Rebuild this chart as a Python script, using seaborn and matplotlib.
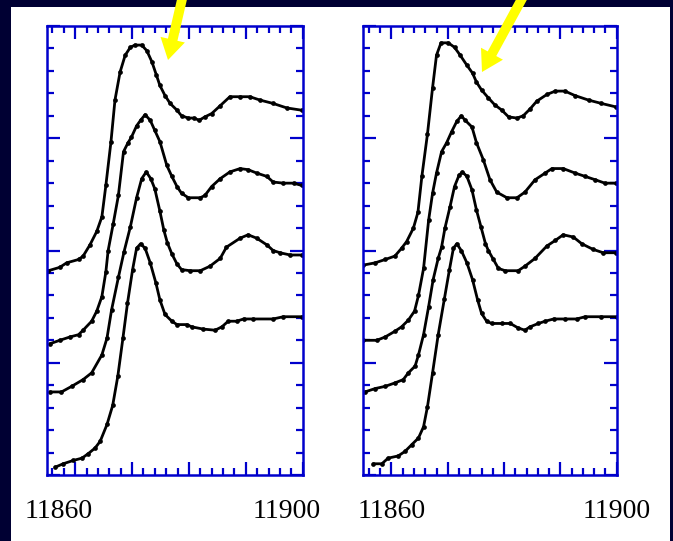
import matplotlib
matplotlib.use("Agg")
import matplotlib.pyplot as plt
import matplotlib.transforms as mtransforms
import seaborn as sns
from matplotlib.patches import Rectangle, FancyArrowPatch, ArrowStyle
from matplotlib.ticker import MultipleLocator

sns.set_style("white")
plt.rcParams["font.family"] = ["Liberation Serif", "DejaVu Serif"]

BLUE = "#0000CC"
NAVY = "#000033"

# ---- left panel spectra (energy in eV, offset absorbance) ----
e_left_a = [11855.3, 11857.3, 11858.5, 11860.6, 11861.4, 11862.6, 11863.8, 11864.7, 11865.4, 11866.3,
            11867.0, 11867.9, 11868.8, 11869.7, 11870.5, 11871.7, 11872.6, 11873.5, 11874.3, 11874.9,
            11875.8, 11876.7, 11877.9, 11878.7, 11879.9, 11880.9, 11881.8, 11882.8, 11884.0, 11885.5,
            11887.2, 11889.0, 11890.7, 11892.5, 11894.8, 11897.2, 11899.8]
mu_left_a = [1.82, 1.85, 1.89, 1.92, 1.95, 2.05, 2.17, 2.30, 2.58, 2.97,
             3.34, 3.59, 3.74, 3.81, 3.83, 3.83, 3.78, 3.68, 3.56, 3.47,
             3.38, 3.31, 3.25, 3.20, 3.18, 3.18, 3.16, 3.19, 3.22, 3.29,
             3.37, 3.37, 3.37, 3.34, 3.31, 3.27, 3.25]

e_left_b = [11855.6, 11857.3, 11859.1, 11860.6, 11861.4, 11862.9, 11863.8, 11864.7, 11865.4, 11865.8,
            11866.7, 11867.6, 11868.5, 11869.3, 11869.9, 11870.8, 11871.5, 11872.3, 11873.2, 11874.0,
            11874.9, 11876.1, 11877.0, 11877.9, 11878.7, 11879.9, 11882.0, 11882.8, 11884.0, 11885.5,
            11887.2, 11889.0, 11890.4, 11891.9, 11893.7, 11894.8, 11896.6, 11898.4, 11899.8]
mu_left_b = [1.17, 1.20, 1.23, 1.25, 1.29, 1.37, 1.46, 1.59, 1.81, 2.00,
             2.24, 2.49, 2.88, 2.96, 3.01, 3.11, 3.16, 3.21, 3.16, 3.07,
             2.97, 2.76, 2.66, 2.57, 2.51, 2.47, 2.47, 2.49, 2.57, 2.64,
             2.70, 2.73, 2.72, 2.69, 2.66, 2.61, 2.60, 2.60, 2.58]

e_left_c = [11855.6, 11857.6, 11859.4, 11861.4, 11862.9, 11864.7, 11865.6, 11866.4, 11867.6, 11868.6,
            11869.7, 11870.8, 11871.7, 11872.5, 11873.3, 11874.0, 11874.9, 11875.6, 11876.2, 11877.0,
            11877.9, 11878.7, 11880.2, 11882.0, 11883.7, 11885.5, 11886.6, 11889.0, 11890.4, 11891.9,
            11893.7, 11894.8, 11896.0, 11897.8, 11899.8]
mu_left_c = [0.74, 0.74, 0.79, 0.85, 0.91, 1.07, 1.22, 1.47, 1.76, 1.99,
             2.21, 2.47, 2.64, 2.70, 2.64, 2.55, 2.35, 2.18, 2.07, 1.97,
             1.88, 1.83, 1.82, 1.82, 1.86, 1.93, 2.03, 2.11, 2.14, 2.11,
             2.05, 2.00, 1.98, 1.96, 1.96]

e_left_d = [11856.5, 11857.9, 11859.7, 11861.2, 11862.3, 11863.5, 11864.4, 11865.6, 11866.6, 11867.5,
            11868.4, 11869.2, 11870.1, 11870.8, 11871.5, 11872.3, 11873.2, 11874.2, 11874.9, 11875.8,
            11877.0, 11877.9, 11879.6, 11880.5, 11882.5, 11884.6, 11885.8, 11886.9, 11888.4, 11889.6,
            11891.3, 11894.8, 11896.6, 11899.8]
mu_left_d = [0.07, 0.10, 0.13, 0.15, 0.19, 0.24, 0.30, 0.45, 0.62, 0.88,
             1.22, 1.53, 1.83, 2.02, 2.06, 2.02, 1.89, 1.71, 1.56, 1.43,
             1.37, 1.34, 1.34, 1.32, 1.30, 1.29, 1.32, 1.37, 1.37, 1.39,
             1.39, 1.39, 1.41, 1.41]

# ---- right panel spectra ----
e_right_a = [11855.0, 11857.1, 11858.9, 11860.6, 11861.8, 11862.7, 11863.9, 11864.7, 11865.4, 11866.4,
             11867.3, 11868.0, 11868.8, 11870.1, 11871.2, 11872.2, 11873.4, 11874.4, 11875.1, 11876.0,
             11877.2, 11878.3, 11879.6, 11880.8, 11882.3, 11883.4, 11884.6, 11885.8, 11887.6, 11889.1,
             11890.8, 11892.6, 11895.0, 11897.3, 11899.8]
mu_right_a = [1.87, 1.89, 1.92, 1.95, 2.02, 2.08, 2.20, 2.34, 2.66, 3.04,
              3.45, 3.74, 3.85, 3.85, 3.81, 3.74, 3.65, 3.58, 3.50, 3.43,
              3.36, 3.30, 3.25, 3.19, 3.18, 3.20, 3.26, 3.33, 3.39, 3.42,
              3.42, 3.38, 3.34, 3.31, 3.28]

e_right_b = [11855.0, 11857.4, 11858.9, 11860.6, 11861.8, 11863.0, 11864.1, 11864.8, 11865.7, 11866.6,
             11867.3, 11868.0, 11868.9, 11869.8, 11870.7, 11871.6, 11872.4, 11873.1, 11874.3, 11875.1,
             11876.3, 11877.5, 11878.7, 11880.5, 11882.3, 11883.7, 11885.5, 11887.3, 11888.5, 11890.5,
             11892.6, 11894.4, 11896.2, 11897.9, 11899.8]
mu_right_b = [1.20, 1.20, 1.23, 1.28, 1.32, 1.38, 1.46, 1.60, 1.84, 2.27,
              2.51, 2.69, 2.88, 2.96, 3.06, 3.15, 3.20, 3.16, 3.10, 2.96,
              2.81, 2.63, 2.52, 2.47, 2.47, 2.52, 2.63, 2.69, 2.73, 2.73,
              2.69, 2.66, 2.63, 2.60, 2.60]

e_right_c = [11855.3, 11857.1, 11858.9, 11860.6, 11862.1, 11863.0, 11864.2, 11864.8, 11865.7, 11866.6,
             11867.4, 11868.3, 11868.9, 11869.5, 11870.4, 11871.2, 11872.0, 11872.6, 11873.4, 11874.3,
             11875.1, 11875.9, 11876.7, 11877.2, 11878.1, 11879.0, 11880.2, 11882.5, 11883.7, 11885.5,
             11887.6, 11889.1, 11890.5, 11892.3, 11893.8, 11895.8, 11897.6, 11899.8]
mu_right_c = [0.74, 0.77, 0.79, 0.82, 0.85, 0.91, 0.97, 1.07, 1.25, 1.50,
              1.74, 1.93, 2.03, 2.20, 2.39, 2.57, 2.67, 2.70, 2.66, 2.54,
              2.36, 2.21, 2.06, 2.00, 1.92, 1.84, 1.82, 1.82, 1.86, 1.93,
              2.04, 2.09, 2.14, 2.12, 2.06, 2.01, 1.98, 1.98]

e_right_d = [11856.8, 11858.3, 11859.4, 11861.2, 11862.4, 11863.6, 11864.8, 11865.7, 11866.4, 11867.3,
             11868.3, 11869.4, 11870.3, 11871.0, 11871.6, 11872.4, 11873.4, 11874.4, 11875.3, 11876.0,
             11876.9, 11877.8, 11879.6, 11881.1, 11882.5, 11883.7, 11884.6, 11886.1, 11887.3, 11888.8,
             11890.8, 11892.9, 11894.4, 11897.3, 11900.0]
mu_right_d = [0.10, 0.10, 0.15, 0.17, 0.21, 0.27, 0.33, 0.43, 0.61, 0.91,
              1.25, 1.57, 1.83, 2.02, 2.06, 2.00, 1.89, 1.74, 1.56, 1.44,
              1.37, 1.35, 1.35, 1.35, 1.31, 1.29, 1.32, 1.35, 1.37, 1.39,
              1.39, 1.39, 1.41, 1.41, 1.41]

x_ticks = [11860, 11870, 11880, 11890, 11900]
x_tick_labels = ["11860", "", "", "", "11900"]

W, H = 673, 541
fig = plt.figure(figsize=(W / 100, H / 100), dpi=100)
fig.patch.set_facecolor(NAVY)
fig.add_artist(Rectangle((11 / W, 0), 659 / W, 1 - 7 / H, transform=fig.transFigure,
                         facecolor="white", edgecolor="none", zorder=-5))

ax_l = fig.add_axes([46.7 / W, 1 - 475 / H, 256 / W, 449 / H])
ax_r = fig.add_axes([363.3 / W, 1 - 475 / H, 253.4 / W, 449 / H])

panels = [
    (ax_l, [(e_left_a, mu_left_a), (e_left_b, mu_left_b), (e_left_c, mu_left_c), (e_left_d, mu_left_d)]),
    (ax_r, [(e_right_a, mu_right_a), (e_right_b, mu_right_b), (e_right_c, mu_right_c), (e_right_d, mu_right_d)]),
]

for ax, curves in panels:
    for e, mu in curves:
        sns.lineplot(x=e, y=mu, ax=ax, color="black", linewidth=2.0, marker="o",
                     markersize=3.4, markeredgewidth=0, estimator=None, sort=False)
    ax.set_xlim(11855, 11900)
    ax.set_ylim(0, 4)
    ax.set_facecolor("white")
    for s in ax.spines.values():
        s.set_visible(True)
        s.set_color(BLUE)
        s.set_linewidth(1.8)
    ax.set_xticks(x_ticks, x_tick_labels)
    ax.xaxis.set_minor_locator(MultipleLocator(2))
    ax.yaxis.set_major_locator(MultipleLocator(1))
    ax.yaxis.set_minor_locator(MultipleLocator(0.2))
    ax.set_yticklabels([])
    ax.tick_params(which="both", direction="in", top=True, right=True, bottom=True, left=True,
                   color=BLUE, width=1.6)
    ax.tick_params(which="major", length=9.5)
    ax.tick_params(which="minor", length=5)
    ax.tick_params(axis="x", which="major", labelsize=20, labelcolor="black", pad=17)
    ax.set_xlabel("")
    ax.set_ylabel("")

# left panel labels sit a little left of their ticks
shift = mtransforms.ScaledTranslation(-16 / 100, 0, fig.dpi_scale_trans)
for lbl in ax_l.get_xticklabels():
    lbl.set_transform(lbl.get_transform() + shift)

# yellow pointer arrows
arrow_style = ArrowStyle.Simple(head_length=15, head_width=18, tail_width=7)
for start, tip in [((183, -5), (168, 60)), ((524, -5), (482, 72))]:
    fig.add_artist(FancyArrowPatch((start[0] / W, 1 - start[1] / H), (tip[0] / W, 1 - tip[1] / H),
                                   transform=fig.transFigure, arrowstyle=arrow_style,
                                   mutation_scale=1, shrinkA=0, shrinkB=0,
                                   color="#FFFF00", linewidth=0, zorder=10))

fig.savefig("out.png", dpi=100, facecolor=NAVY)
